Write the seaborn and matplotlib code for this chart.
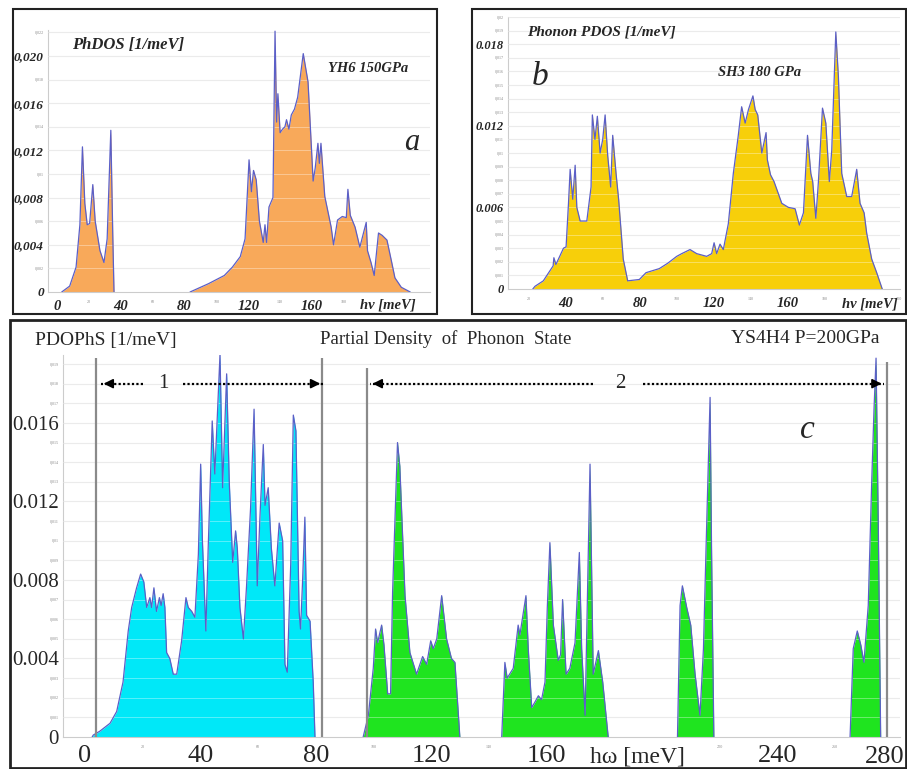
import numpy as np
import matplotlib
matplotlib.use("Agg")
import matplotlib.pyplot as plt
from matplotlib.patches import Rectangle
import seaborn as sns

sns.set_style("white")
plt.rcParams['font.family'] = ['Liberation Serif', 'DejaVu Serif']

# ---- data (energy in meV, DOS in 1/meV) ----
# panel a: YH6 150 GPa
a1_mev = [3, 8, 12, 14.4, 16, 17.5, 19, 20.5, 22.5, 24, 27, 29.5, 31.5, 33.8, 35, 35.8]
a1_dos = [0, 0.0005, 0.0021, 0.0057, 0.0123, 0.0075, 0.0057, 0.0058, 0.0091, 0.0060,
          0.0035, 0.0025, 0.0045, 0.0137, 0.0050, 0]
a2_mev = [83.5, 95, 105, 110, 115, 118, 120.5, 122, 123.3, 125, 127, 129.4, 130.5, 131.5,
          133, 135.5, 136.8, 137.8, 138.6, 140, 141.5, 143, 144, 145.5, 147, 149, 151,
          154.5, 157.5, 160.7, 162, 163.7, 164.6, 165.6, 168, 172, 173.5, 176, 179, 181.5,
          182.5, 184, 187, 190, 194, 194.8, 197, 199, 201.7, 204, 207, 210, 212, 216, 221.6]
a2_dos = [0, 0.0007, 0.0014, 0.0021, 0.0030, 0.0045, 0.0112, 0.0085, 0.0103, 0.0095, 0.0060,
          0.0042, 0.0057, 0.0042, 0.0072, 0.0080, 0.0221, 0.0144, 0.0168, 0.0135, 0.0138,
          0.0140, 0.0146, 0.0138, 0.0150, 0.0155, 0.0165, 0.0202, 0.0178, 0.0094, 0.0105,
          0.0126, 0.0109, 0.0126, 0.0081, 0.0055, 0.0040, 0.0061, 0.0064, 0.0063, 0.0087,
          0.0065, 0.0055, 0.0038, 0.0059, 0.0035, 0.0025, 0.0014, 0.0050, 0.0048, 0.0044,
          0.0025, 0.0012, 0.0004, 0]

# panel b: SH3 180 GPa
b_mev = [22, 23.2, 27.7, 33.0, 33.4, 34.5, 38.6, 40.0, 41.3, 42.2, 43.6, 44.9, 45.8, 47.6,
         51.2, 53.5, 54.2, 55.6, 56.9, 58.4, 59.8, 61.1, 62.5, 64.1, 65.2, 67.0, 68.4, 70.9,
         73.3, 79.6, 83.2, 90.4, 95.0, 99.8, 102.5, 107.0, 110.6, 116.0, 118.7, 120.0, 121.4,
         123.2, 125.0, 127.7, 130.4, 133.0, 134.9, 136.8, 138.6, 141.0, 142.2, 143.6, 145.8,
         148.1, 148.8, 150.5, 152.4, 156.6, 160.2, 163.8, 166.1, 168.3, 170.5, 172.3, 173.3,
         175.0, 176.4, 178.6, 180.4, 182.3, 183.6, 185.8, 187.2, 189.0, 191.7, 194.4, 197.1,
         198.9, 201.1, 202.5, 205.2, 207.9, 210.9]
b_dos = [0, 0.0002, 0.0006, 0.0017, 0.0023, 0.0018, 0.0030, 0.0031, 0.0063, 0.0088, 0.0066,
         0.0091, 0.0060, 0.0050, 0.0050, 0.0075, 0.0128, 0.0110, 0.0127, 0.0100, 0.0110,
         0.0128, 0.0098, 0.0075, 0.0113, 0.0085, 0.0066, 0.0022, 0.0006, 0.0007, 0.0012,
         0.0015, 0.0019, 0.0024, 0.0026, 0.0029, 0.0026, 0.0024, 0.0026, 0.0034, 0.0026,
         0.0033, 0.0029, 0.0048, 0.0085, 0.0112, 0.0134, 0.0122, 0.0132, 0.0142, 0.0132,
         0.0128, 0.0100, 0.0115, 0.0095, 0.0084, 0.0079, 0.0063, 0.0060, 0.0059, 0.0047,
         0.0056, 0.0113, 0.0085, 0.0079, 0.0052, 0.0079, 0.0133, 0.0122, 0.0079, 0.0102,
         0.0189, 0.0156, 0.0085, 0.0068, 0.0068, 0.0088, 0.0063, 0.0056, 0.0041, 0.0022,
         0.0012, 0]

# panel c: YS4H4 P=200GPa, region 1 (cyan)
c1_mev = [2.5, 2.9, 5.2, 8.7, 11.0, 13.2, 15.0, 16.2, 17.9, 19.3, 20.4, 21.4, 22.5, 23.1,
          23.9, 24.8, 25.8, 26.4, 27.1, 27.7, 28.3, 29.4, 30.6, 31.8, 33.5, 35.0, 35.8, 37.0,
          38.1, 39.3, 40.1, 40.7, 41.9, 42.7, 44.1, 45.0, 46.8, 47.7, 49.1, 50.0, 51.2, 52.2,
          52.8, 53.7, 54.9, 56.0, 57.4, 58.6, 59.7, 60.6, 61.8, 62.4, 63.5, 64.6, 65.8, 67.3,
          68.5, 69.3, 70.1, 71.3, 72.2, 73.1, 74.2, 74.7, 75.4, 76.2, 76.8, 78.0, 79.1, 79.7]
c1_dos = [0, 0.0001, 0.0003, 0.0007, 0.0013, 0.0028, 0.0054, 0.0066, 0.0076, 0.0083, 0.0079,
          0.0066, 0.0071, 0.0066, 0.0076, 0.0064, 0.0071, 0.0067, 0.0073, 0.0066, 0.0043,
          0.0040, 0.0032, 0.0032, 0.0049, 0.0071, 0.0066, 0.0064, 0.0061, 0.0093, 0.0139,
          0.0100, 0.0054, 0.0096, 0.0161, 0.0134, 0.0195, 0.0127, 0.0185, 0.0130, 0.0089,
          0.0105, 0.0096, 0.0066, 0.0050, 0.0077, 0.0117, 0.0167, 0.0077, 0.0111, 0.0149,
          0.0118, 0.0127, 0.0096, 0.0077, 0.0109, 0.0100, 0.0037, 0.0033, 0.0088, 0.0164,
          0.0156, 0.0064, 0.0055, 0.0079, 0.0112, 0.0062, 0.0059, 0.0028, 0]

# panel c, region 2 (green), four separate bands
g1_mev = [96.4, 98.2, 99.9, 100.7, 101.4, 102.8, 103.6, 104.9, 105.9, 106.6, 108.3, 109.1,
          110.9, 112.6, 114.9, 117.0, 118.4, 119.8, 120.7, 121.9, 123.6, 125.3, 127.0, 128.2,
          129.9]
g1_dos = [0, 0.0011, 0.0035, 0.0055, 0.0048, 0.0057, 0.0047, 0.0022, 0.0022, 0.0074, 0.0150,
          0.0138, 0.0072, 0.0043, 0.0032, 0.0041, 0.0037, 0.0049, 0.0045, 0.0050, 0.0072,
          0.0050, 0.0040, 0.0038, 0]
g2_mev = [144.4, 145.5, 146.3, 148.4, 150.1, 150.7, 152.8, 153.6, 154.8, 156.0, 157.1, 158.2,
          159.4, 160.2, 161.1, 162.3, 164.0, 164.8, 165.5, 166.7, 168.0, 169.8, 171.3, 172.1,
          173.3, 175.0, 176.1, 177.9, 179.4, 181.3]
g2_dos = [0, 0.0038, 0.0030, 0.0035, 0.0057, 0.0052, 0.0072, 0.0045, 0.0015, 0.0018, 0.0021,
          0.0019, 0.0028, 0.0066, 0.0099, 0.0057, 0.0039, 0.0042, 0.0070, 0.0032, 0.0035,
          0.0048, 0.0094, 0.0045, 0.0011, 0.0139, 0.0032, 0.0044, 0.0028, 0]
g3_mev = [205.3, 206.2, 207.0, 208.5, 209.9, 211.4, 213.1, 214.3, 215.2, 216.6, 217.1, 217.9]
g3_dos = [0, 0.0067, 0.0077, 0.0066, 0.0057, 0.0032, 0.0011, 0.0045, 0.0096, 0.0173, 0.0096, 0]
g4_mev = [265.1, 266.2, 267.6, 268.8, 269.9, 271.4, 272.6, 273.4, 274.1, 274.9, 275.7]
g4_dos = [0, 0.0045, 0.0054, 0.0047, 0.0038, 0.0067, 0.0130, 0.0167, 0.0193, 0.0105, 0]

# region boundaries in panel c (meV) and their heights
c_bounds = [3.7, 82.0, 97.6, 277.8]
c_bound_tops = [0.0193, 0.0193, 0.0188, 0.0191]

W, H = 907, 769
OUTLINE = '#5b5fc7'
GRID = '#e2e2e2'


def fx(px):
    return px / W


def fy(py):
    return (H - py) / H


def band(ax, mev, dos, color):
    ax.fill_between(mev, dos, 0, color=color, lw=0, zorder=2)
    sns.lineplot(x=mev, y=dos, ax=ax, color=OUTLINE, lw=0.9, sort=False,
                 estimator=None, zorder=4)


def style_axes(ax, ygrid):
    for s in ['top', 'right']:
        ax.spines[s].set_visible(False)
    for s in ['left', 'bottom']:
        ax.spines[s].set_color('#cccccc')
        ax.spines[s].set_linewidth(0.8)
    for y in ygrid:
        ax.axhline(y, color=GRID, lw=0.8, zorder=0)
        ax.axhline(y, color='white', lw=0.7, alpha=0.35, zorder=3)
    ax.set_xlabel('')
    ax.set_ylabel('')


fig = plt.figure(figsize=(W / 100, H / 100), dpi=100)

# ---------------- panel a ----------------
ax_a = fig.add_axes([fx(48), fy(292), 382 / W, 262 / H])
band(ax_a, a1_mev, a1_dos, '#f8a95a')
band(ax_a, a2_mev, a2_dos, '#f8a95a')
ax_a.set_xlim(-5.6, 234)
ax_a.set_ylim(0, 0.0222)
style_axes(ax_a, np.arange(0.002, 0.0221, 0.002))
ab_font = dict(fontweight='bold', fontstyle='italic')
ax_a.set_yticks([0, 0.004, 0.008, 0.012, 0.016, 0.020],
                ['0', '0,004', '0,008', '0,012', '0,016', '0,020'], fontsize=9.5, **ab_font)
ax_a.set_yticks([0.002, 0.006, 0.010, 0.014, 0.018, 0.022],
                ['0,002', '0,006', '0,01', '0,014', '0,018', '0,022'], minor=True,
                fontsize=3, color='#888888')
ax_a.set_xticks([0, 40, 80, 120, 160], ['0', '40', '80', '120', '160'], fontsize=10.5, **ab_font)
ax_a.set_xticks([20, 60, 100, 140, 180], ['20', '60', '100', '140', '180'], minor=True,
                fontsize=3, color='#888888')
ax_a.tick_params(axis='y', which='both', length=0, pad=3)
ax_a.tick_params(axis='x', which='both', length=0, pad=6)
fig.text(fx(72), fy(45), 'PhDOS [1/meV]', fontsize=12, ha='left', va='center', **ab_font)
fig.text(fx(328), fy(68), 'YH6 150GPa', fontsize=10.5, ha='left', va='center', **ab_font)
fig.text(fx(412), fy(142), 'a', fontsize=22, fontstyle='italic', ha='center', va='center')
fig.text(fx(360), fy(305), 'hν [meV]', fontsize=10.5, ha='left', va='center', **ab_font)

# ---------------- panel b ----------------
ax_b = fig.add_axes([fx(508), fy(289), 392 / W, 272 / H])
band(ax_b, b_mev, b_dos, '#f7cf0a')
ax_b.set_xlim(8.6, 220.5)
ax_b.set_ylim(0, 0.020)
style_axes(ax_b, np.arange(0.001, 0.0201, 0.001))
ax_b.set_yticks([0, 0.006, 0.012, 0.018], ['0', '0.006', '0.012', '0.018'],
                fontsize=9, **ab_font)
b_minor = [v for v in range(1, 21) if v % 6 != 0]
ax_b.set_yticks([v / 1000 for v in b_minor],
                ['0,%03d' % v if v % 10 else '0,%02d' % (v // 10) for v in b_minor],
                minor=True, fontsize=3, color='#888888')
ax_b.set_xticks([40, 80, 120, 160], ['40', '80', '120', '160'], fontsize=10.5, **ab_font)
ax_b.set_xticks([20, 60, 100, 140, 180, 220], ['20', '60', '100', '140', '180', '220'],
                minor=True, fontsize=3, color='#888888')
ax_b.tick_params(axis='y', which='both', length=0, pad=3)
ax_b.tick_params(axis='x', which='both', length=0, pad=6)
fig.text(fx(527), fy(32), 'Phonon PDOS [1/meV]', fontsize=11, ha='left', va='center', **ab_font)
fig.text(fx(540), fy(77), 'b', fontsize=24, fontstyle='italic', ha='center', va='center')
fig.text(fx(718), fy(72), 'SH3 180 GPa', fontsize=10.5, ha='left', va='center', **ab_font)
fig.text(fx(842), fy(304), 'hν [meV]', fontsize=10.5, ha='left', va='center', **ab_font)

# ---------------- panel c ----------------
ax_c = fig.add_axes([fx(63), fy(737), 837 / W, 382 / H])
band(ax_c, c1_mev, c1_dos, '#00e8f8')
for xs, ys in [(g1_mev, g1_dos), (g2_mev, g2_dos), (g3_mev, g3_dos), (g4_mev, g4_dos)]:
    band(ax_c, xs, ys, '#1fe41f')
ax_c.set_xlim(-7.6, 282.4)
ax_c.set_ylim(0, 0.01946)
style_axes(ax_c, np.arange(0.001, 0.0195, 0.001))
for xb, top in zip(c_bounds, c_bound_tops):
    ax_c.vlines(xb, 0, top, color='#8a8a8a', lw=1.6, zorder=5)
ax_c.set_yticks([0, 0.004, 0.008, 0.012, 0.016], ['0', '0.004', '0.008', '0.012', '0.016'],
                fontsize=15)
c_minor = [v for v in range(1, 20) if v % 4 != 0]
ax_c.set_yticks([v / 1000 for v in c_minor],
                ['0,%03d' % v if v % 10 else '0,01' for v in c_minor],
                minor=True, fontsize=3, color='#888888')
# the last label (280) sits against the frame edge, drawn separately below
ax_c.set_xticks([0, 40, 80, 120, 160, 240, 280], ['0', '40', '80', '120', '160', '240', ''],
                fontsize=19)
ax_c.set_xticks([20, 60, 100, 140, 220, 260], ['20', '60', '100', '140', '220', '260'],
                minor=True, fontsize=3, color='#888888')
ax_c.tick_params(axis='y', which='both', length=0, pad=3)
ax_c.tick_params(axis='x', which='both', length=0, pad=6)

# dotted region arrows
arrow_y = 0.018
for x0, x1 in [(20, 5.5), (34, 82.5), (176, 98.7), (193.4, 277)]:
    ax_c.plot([x0, x1], [arrow_y, arrow_y], color='black', lw=1.6, ls=(0, (1, 1)), zorder=6)
    d = 4 if x1 > x0 else -4
    ax_c.annotate('', xy=(x1, arrow_y), xytext=(x1 - d, arrow_y), zorder=6,
                  arrowprops=dict(arrowstyle='-|>', color='black', lw=1.2,
                                  mutation_scale=14))
ax_c.text(27, arrow_y, '1', fontsize=15, ha='center', va='center', zorder=6)
ax_c.text(185.4, arrow_y, '2', fontsize=15, ha='center', va='center', zorder=6)

fig.text(fx(35), fy(340), 'PDOPhS [1/meV]', fontsize=14, ha='left', va='center')
fig.text(fx(320), fy(339), 'Partial Density  of  Phonon  State', fontsize=13.5,
         ha='left', va='center')
fig.text(fx(731), fy(339), 'YS4H4 P=200GPa', fontsize=14, ha='left', va='center')
fig.text(fx(807), fy(430), 'c', fontsize=24, fontstyle='italic', ha='center', va='center')
fig.text(fx(590), fy(757), 'hω [meV]', fontsize=17, ha='left', va='center')
fig.text(fx(905), fy(757), '280', fontsize=19, ha='right', va='center')

# panel frames
for x0, y0, x1, y1, lw in [(13, 9, 437, 314, 1.5), (472, 9, 906, 314, 1.5),
                           (10, 320, 906, 768, 2)]:
    fig.add_artist(Rectangle((fx(x0), fy(y1)), (x1 - x0) / W, (y1 - y0) / H,
                             transform=fig.transFigure, fill=False, ec='#222222', lw=lw))

fig.savefig('out.png', dpi=100)
